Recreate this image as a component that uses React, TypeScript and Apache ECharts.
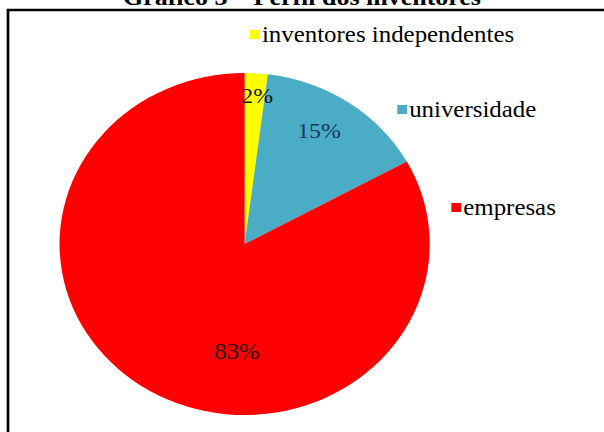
import React, { useEffect, useRef } from "react";
import * as echarts from "echarts";

const titleText = "Gráfico 3 – Perfil dos inventores";
const categories = ["inventores independentes", "universidade", "empresas"];
const values = [2, 15, 83];
const colors = ["#FFFF00", "#4BACC6", "#FF0000"];
const labelColors = ["#111111", "#17375E", "#2a0a0a"];
const labelSizes = [22, 22, 23];
// label offsets from default inside position (unscaled px)
const labelShift = [
  [6, -60],
  [19, -40],
  [38, 31],
];
const legendPos = [
  { left: 231, top: 23 },
  { left: 367, top: 98 },
  { left: 417, top: 196 },
];

const STRETCH = 1.0824;
const W = 558;
const H = 432;

export default function App() {
  const ref = useRef<HTMLDivElement>(null);
  useEffect(() => {
    if (!ref.current) return;
    const chart = echarts.init(ref.current, undefined, { renderer: "svg" });
    const font = "Liberation Serif";
    chart.setOption({
      animation: false,
      backgroundColor: "#ffffff",
      title: {
        text: titleText,
        left: "center",
        top: -15,
        padding: 0,
        textStyle: {
          fontFamily: font,
          fontWeight: "bold",
          fontSize: 24,
          color: "#000000",
        },
      },
      legend: categories.map((name, i) => ({
        data: [name],
        left: legendPos[i].left,
        top: legendPos[i].top,
        padding: 0,
        icon: "rect",
        itemWidth: 9,
        itemHeight: 9,
        itemGap: 0,
        selectedMode: false,
        textStyle: {
          fontFamily: font,
          fontSize: 23,
          color: "#000000",
          padding: [0, 0, 0, -3],
        },
      })),
      graphic: [
        {
          type: "rect",
          shape: { x: 7.4, y: 10, width: 800, height: 700 },
          style: { fill: "none", stroke: "#000000", lineWidth: 2.5 },
          silent: true,
          z: 100,
        },
      ],
      series: [
        {
          type: "pie",
          center: [226, 244],
          radius: 171,
          startAngle: 90,
          clockwise: true,
          avoidLabelOverlap: false,
          itemStyle: { borderWidth: 0 },
          emphasis: { disabled: true },
          label: {
            show: true,
            position: "inside",
            formatter: "{c}%",
            fontFamily: font,
            fontSize: 22,
          },
          labelLine: { show: false },
          labelLayout: (params: any) => {
            const s = labelShift[params.dataIndex] || [0, 0];
            return { dx: s[0], dy: s[1] };
          },
          data: categories.map((name, i) => ({
            name,
            value: values[i],
            itemStyle: { color: colors[i] },
            label: { color: labelColors[i], fontSize: labelSizes[i] },
          })),
        },
      ],
    });
    return () => chart.dispose();
  }, []);
  return (
    <div
      ref={ref}
      style={{
        position: "fixed",
        left: 0,
        top: 0,
        width: W,
        height: H,
        transform: `scaleX(${STRETCH})`,
        transformOrigin: "0 0",
        background: "#ffffff",
      }}
    />
  );
}
